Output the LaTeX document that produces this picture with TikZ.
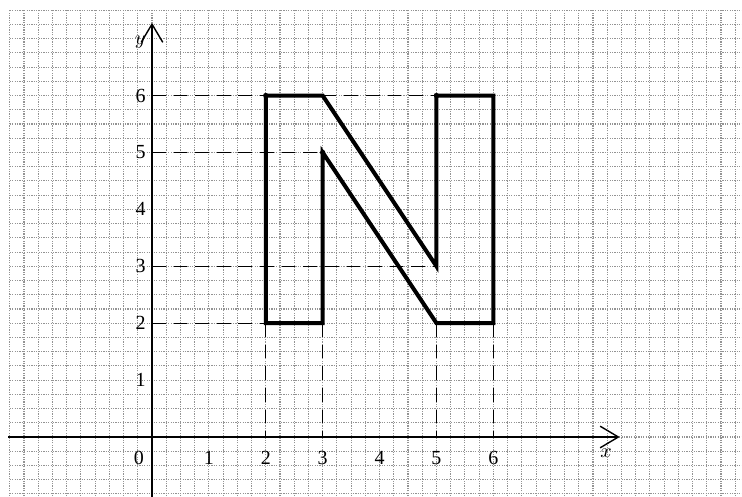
\documentclass[tikz,border=0pt]{standalone}
\usepackage{fontspec}
\setmainfont{Liberation Serif}
\usepackage{tikz}
\usetikzlibrary{arrows.meta}
\usepackage{tkz-euclide}
\tikzset{axe/.style={line width=0.7pt,-{Straight Barb[length=3.2mm,width=3.8mm]}},
rappel/.style={line width=0.6pt,dash pattern=on 2.4mm off 1.4mm},
lettre/.style={line width=2pt,line join=miter}}

\begin{document}
\begin{tikzpicture}[semithick]
\useasboundingbox (-2.671,-1.054) rectangle (10.369,7.680);
\clip (-2.671,-1.054) rectangle (10.369,7.680);
\draw[gray!85,line width=0.55pt,dash pattern=on 0.6pt off 0.6pt,step=0.25] (-2.5,-1.25) grid (10.5,7.5);
\tkzDefPoints{2/2/A,2/6/B,3/6/C,5/3/D,5/6/E,6/6/F,6/2/G,5/2/H,3/5/K,3/2/L}
\draw[rappel](0,6)--(B)(C)--(E)(0,5)--(K)(0,3)--(D)(0,2)--(A)
(A)--(2,0)(L)--(3,0)(H)--(5,0)(G)--(6,0);
\draw[axe](-2.53,0)--(8.22,0);
\draw[axe](0,-1.1)--(0,7.28);
\foreach \i in {1,...,6}{\node at (\i,-0.37){\i};\node at (-0.2,\i){\i};}
\node at (-0.23,-0.37){0};
\node at (7.98,-0.28){$x$};
\node at (-0.21,6.94){$y$};
\draw[lettre](A)--(B)--(C)--(D)--(E)--(F)--(G)--(H)--(K)--(L)--cycle;
\tkzDrawPoints[size=2,fill=black](B,E,K)
\end{tikzpicture}
\end{document}
